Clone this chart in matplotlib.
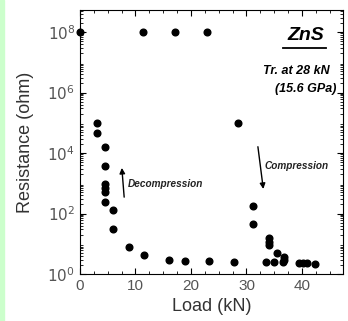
import numpy as np
import matplotlib
matplotlib.use("Agg")
import matplotlib.pyplot as plt
from matplotlib.ticker import FixedLocator, MultipleLocator, NullFormatter
from matplotlib.patches import Rectangle

plt.rcParams['font.family'] = ['Liberation Sans', 'DejaVu Sans']

# compression run (load in kN, resistance in ohm)
comp_load = [0, 11.4, 17.1, 22.8, 28.4, 31.2, 31.2, 34.0, 34.0, 34.0, 35.5, 36.8, 36.8,
             39.5, 40.2, 41.0]
comp_res = [1e8, 1e8, 1e8, 1e8, 1.0e5, 175, 44, 15.5, 11.5, 9.0, 4.9, 3.6, 2.9,
            2.3, 2.3, 2.3]

# decompression run
dec_load = [42.3, 36.5, 35.0, 33.5, 27.8, 23.3, 19.0, 16.1, 11.6, 8.9, 5.95, 5.95,
            4.5, 4.5, 4.5, 4.5, 4.5, 4.5, 3.0, 3.0]
dec_res = [2.1, 2.5, 2.5, 2.5, 2.45, 2.6, 2.7, 2.9, 4.2, 7.8, 30, 129,
           234, 513, 690, 935, 3600, 15500, 44700, 95000]

y_ticks = [1e0, 1e2, 1e4, 1e6, 1e8]
y_tick_labels = ['$10^0$', '$10^2$', '$10^4$', '$10^6$', '$10^8$']

fig = plt.figure(figsize=(3.48, 3.21), dpi=100)
fig.patches.append(Rectangle((0, 0), 4 / 348, 1, transform=fig.transFigure,
                             color='#ccffcc', zorder=0))
ax = fig.add_axes([80 / 348, 1 - 274 / 321, 263 / 348, 264 / 321])

ax.plot(comp_load, comp_res, 'o', color='black', markersize=4.8, clip_on=False)
ax.plot(dec_load, dec_res, 'o', color='black', markersize=4.8, clip_on=False)

ax.set_yscale('log')
ax.set_xlim(0, 47.4)
ax.set_ylim(1, 10 ** 8.73)
ax.xaxis.set_major_locator(MultipleLocator(10))
ax.xaxis.set_minor_locator(MultipleLocator(2.5))
ax.set_yticks(y_ticks, y_tick_labels)
minors = [m * 10 ** d for d in range(0, 9) for m in range(2, 10) if m * 10 ** d < 10 ** 8.73]
ax.yaxis.set_minor_locator(FixedLocator(minors))
ax.yaxis.set_minor_formatter(NullFormatter())
ax.tick_params(which='both', direction='in', top=True, right=True,
               labelsize=11, labelcolor='#555555')
ax.tick_params(which='major', length=4)
ax.tick_params(which='minor', length=2)

ax.set_xlabel('Load (kN)', fontsize=13, color='#333333', labelpad=4)
ax.set_ylabel('Resistance (ohm)', fontsize=13, color='#333333', labelpad=10)

ax.text(0.93, 0.905, 'ZnS', transform=ax.transAxes, ha='right', va='center',
        fontsize=14, fontweight='bold', style='italic')
ax.plot([0.772, 0.935], [0.855, 0.855], transform=ax.transAxes, color='black', lw=1.3)
ax.text(0.95, 0.77, 'Tr. at 28 kN', transform=ax.transAxes, ha='right', va='center',
        fontsize=9, fontweight='bold', style='italic')
ax.text(0.975, 0.70, '(15.6 GPa)', transform=ax.transAxes, ha='right', va='center',
        fontsize=9, fontweight='bold', style='italic')

ax.text(8.6, 10 ** 2.97, 'Decompression', ha='left', va='center', fontsize=7.2,
        fontweight='bold', style='italic', color='#222222')
ax.annotate('', xy=(7.5, 10 ** 3.6), xytext=(8.0, 10 ** 2.45),
            arrowprops=dict(arrowstyle='-|>', color='black', lw=1, mutation_scale=8))
ax.text(33.2, 10 ** 3.56, 'Compression', ha='left', va='center', fontsize=7.2,
        fontweight='bold', style='italic', color='#222222')
ax.annotate('', xy=(33.1, 10 ** 2.72), xytext=(32.0, 10 ** 4.3),
            arrowprops=dict(arrowstyle='-|>', color='black', lw=1, mutation_scale=8))

fig.savefig('out.png', dpi=100)
